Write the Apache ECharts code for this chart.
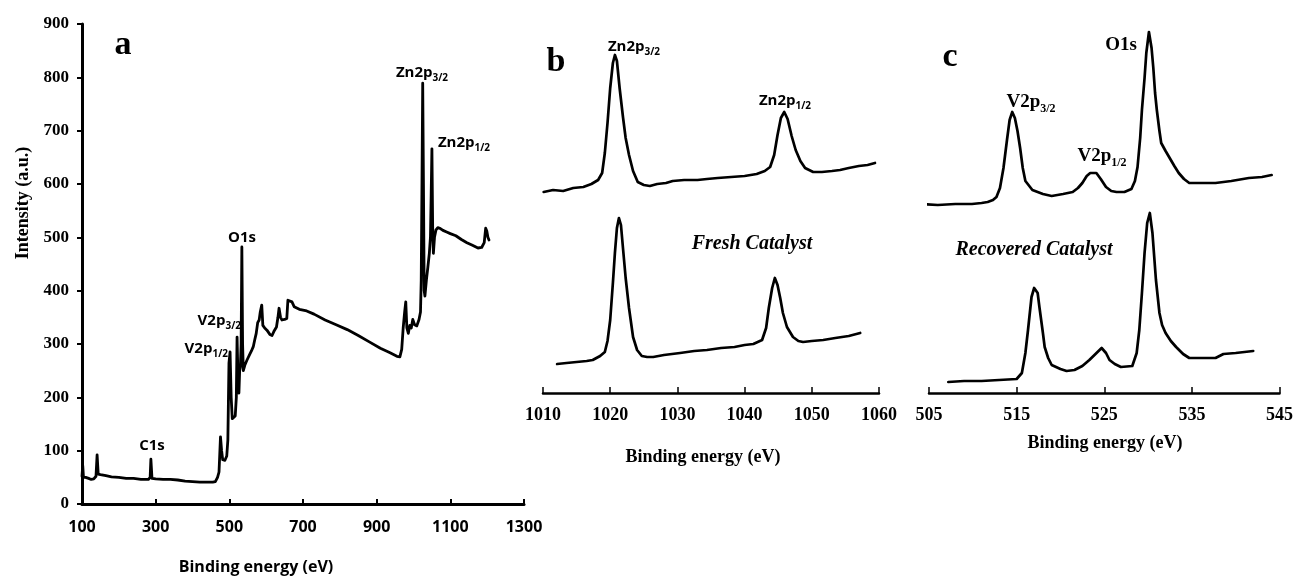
<!DOCTYPE html>
<html>
<head>
<meta charset="utf-8">
<script src="https://cdn.jsdelivr.net/npm/echarts@6/dist/echarts.min.js"></script>
<style>html,body{margin:0;padding:0;background:#fff}#chart{width:1296px;height:577px}</style>
</head>
<body>
<div id="chart"></div>
<script>
// ---- Panel a: survey spectrum ----
const surveyEnergy = [100,102,104,110,118,125,132,138,141,144,150,165,180,200,220,240,260,280,285,287,290,300,320,340,360,380,400,420,440,455,462,468,472,476,479,482,488,493,496,499,502,505,508,512,516,519,521,524,526,528,530,532,534,536,538,542,548,555,560,565,569,573,577,581,584,588,591,596,602,610,616,622,628,632,635,639,643,650,656,659,664,670,676,690,710,730,760,790,820,850,880,910,935,955,963,968,972,976,979,982,986,990,994,998,1003,1009,1015,1019,1021,1023,1025,1027,1029,1031,1035,1039,1043,1046,1048,1050,1052,1054,1057,1061,1066,1072,1080,1090,1100,1115,1130,1145,1160,1175,1185,1192,1196,1199,1202,1205];
const surveyIntensity = [52,72,50,50,48,46,47,52,92,56,55,53,51,50,48,48,46,46,50,84,48,47,46,46,45,43,42,41,41,41,42,50,60,126,100,83,82,90,120,264,285,200,160,157,165,200,313,220,208,250,257,300,482,300,250,260,270,280,287,295,308,320,340,345,360,373,335,330,326,318,316,325,332,350,367,350,345,346,348,382,383,379,370,365,362,356,345,336,327,316,304,292,284,277,276,290,330,360,379,330,320,335,330,346,336,334,346,360,420,600,789,600,400,390,420,444,470,500,580,666,520,470,500,514,518,517,513,510,507,503,496,490,485,480,481,490,517,512,500,495];
const surveyXTicks = [100,300,500,700,900,1100,1300];
const surveyYTicks = [0,100,200,300,400,500,600,700,800,900];

// ---- Panel b: Zn2p (upper and lower spectra), arbitrary intensity ----
const znTopEnergy = [1010.1,1011.5,1013,1014.5,1016,1017.2,1018.2,1018.8,1019.2,1019.6,1020.0,1020.4,1020.7,1021.0,1021.4,1021.9,1022.3,1022.8,1023.4,1024.1,1025,1025.9,1027,1028.3,1029.3,1031,1033,1034.4,1036,1038,1040,1041.8,1043,1043.8,1044.4,1044.9,1045.4,1045.9,1046.4,1047.0,1047.6,1048.3,1049,1050.2,1051.5,1053,1054.2,1055.5,1057,1058.3,1059.4];
const znTopIntensity = [201,203,202,205,206,209,213,220,240,270,305,330,338,332,305,276,255,238,222,211,208,207,209,210,212,213,213,214,215,216,217,219,222,226,238,258,275,281,274,257,243,232,225,221,221,222,223,225,227,228,230];
const znBottomEnergy = [1012.1,1013.5,1015,1016.5,1017.4,1018.5,1019.2,1019.6,1020.0,1020.4,1020.7,1021.0,1021.3,1021.6,1021.9,1022.3,1022.8,1023.4,1024.0,1024.7,1025.5,1026.4,1028,1030.4,1032.5,1034.4,1036.5,1038.5,1040,1041.3,1042.6,1043.2,1043.6,1044.1,1044.5,1044.9,1045.3,1045.7,1046.3,1047.2,1048,1048.7,1050,1051.7,1053.5,1055.5,1057.2];
const znBottomIntensity = [29,30,31,32,33,37,41,52,73,110,140,165,175,168,145,115,85,56,43,37,36,36,38,40,42,43,45,46,48,49,53,65,85,105,115,108,95,80,66,56,52,51,52,53,55,57,60];
const znXTicks = [1010,1020,1030,1040,1050,1060];

// ---- Panel c: V2p / O1s (upper and lower spectra), arbitrary intensity ----
const vTopEnergy = [502.5,504,506,508,509.9,511,511.7,512.3,512.7,513.1,513.5,513.9,514.2,514.5,514.8,515.1,515.4,515.7,516.0,516.8,518,519,520.3,521.4,522.0,522.5,523,523.4,524.1,524.6,525.2,525.8,526.4,527.3,528.1,528.5,528.8,529.1,529.3,529.6,529.8,530.1,530.4,530.6,530.8,531.0,531.3,531.5,532.0,532.4,533,533.5,534.1,534.7,536,537.7,539.5,541.5,543,544.1];
const vTopIntensity = [188,189,188,189,189,190,191,193,196,205,225,253,273,281,275,262,245,225,212,203,199,197,199,201,205,210,217,220,220,214,206,202,201,201,204,212,226,255,283,315,340,361,345,325,300,283,262,250,242,236,227,220,214,210,210,210,212,215,216,218];
const vBottomEnergy = [507.2,509,511,513,515.0,515.6,516.0,516.3,516.7,517.0,517.2,517.4,517.6,518.0,518.2,518.6,519.0,520,520.7,521.6,522.5,523.3,524.0,524.7,525.2,525.6,526.2,526.9,528.2,528.7,529.0,529.3,529.6,529.9,530.2,530.5,530.9,531.3,531.6,532.0,532.6,533.2,534,534.7,536,537.7,538.6,540,542.0];
const vBottomIntensity = [11,12,12,13,14,20,40,63,96,105,107,100,86,60,46,35,28,24,22,23,27,33,39,45,40,33,29,26,27,40,63,100,140,170,180,160,113,80,68,60,52,46,39,35,35,35,39,40,42];
const vXTicks = [505,515,525,535,545];

const pairs = (xs, ys) => xs.map((x, i) => [x, ys[i]]);
const plain = v => String(v);

const SERIF = '"Liberation Serif", "Times New Roman", serif';
const SANS = '"Open Sans", "Liberation Sans", sans-serif';

const chart = echarts.init(document.getElementById('chart'), null, {renderer: 'canvas'});

function lineSeries(xi, yi, data, w) {
  return {
    type: 'line', xAxisIndex: xi, yAxisIndex: yi, data: data,
    showSymbol: false, symbol: 'none', clip: false, animation: false,
    lineStyle: {color: '#000', width: w, join: 'round', cap: 'round'}, smooth: false
  };
}

function txt(x, y, text, font, opts) {
  opts = opts || {};
  const st = {
    text: text, font: font, fill: '#000',
    textAlign: opts.align || 'center', align: opts.align || 'center',
    textVerticalAlign: 'middle', verticalAlign: 'middle'
  };
  if (opts.rich) st.rich = opts.rich;
  return {type: 'text', x: x, y: y, rotation: opts.rotation || 0, style: st, z: 100};
}

const sansRich = {
  m: {fontFamily: SANS, fontWeight: 'bold', fontSize: 15, lineHeight: 20, verticalAlign: 'bottom'},
  s: {fontFamily: SANS, fontWeight: 'bold', fontSize: 10, lineHeight: 14, verticalAlign: 'bottom', padding: [0,0,-3,0]}
};
const serifRich = {
  m: {fontFamily: SERIF, fontWeight: 'bold', fontSize: 19, lineHeight: 22, verticalAlign: 'bottom'},
  s: {fontFamily: SERIF, fontWeight: 'bold', fontSize: 12, lineHeight: 15, verticalAlign: 'bottom', padding: [0,0,-3,0]}
};

const option = {
  backgroundColor: '#fff',
  animation: false,
  grid: [
    {left: 82, top: 24, width: 442, height: 480},
    {left: 543, top: 24, width: 336, height: 369},
    {left: 929, top: 24, width: 352, height: 369}
  ],
  xAxis: [
    {
      gridIndex: 0, type: 'value', min: surveyXTicks[0], max: surveyXTicks[surveyXTicks.length - 1], interval: 200,
      axisLine: {lineStyle: {color: '#000', width: 3}},
      axisTick: {show: true, inside: true, length: 5, lineStyle: {color: '#000', width: 2}},
      axisLabel: {color: '#000', fontFamily: SANS, fontWeight: 'bold', fontSize: 16, margin: 15, formatter: plain},
      splitLine: {show: false}
    },
    {
      gridIndex: 1, type: 'value', min: znXTicks[0], max: znXTicks[znXTicks.length - 1], interval: 10,
      axisLine: {lineStyle: {color: '#000', width: 2.5}},
      axisTick: {show: true, inside: true, length: 6, lineStyle: {color: '#000', width: 1.5}},
      axisLabel: {color: '#000', fontFamily: SERIF, fontWeight: 'bold', fontSize: 18, margin: 13, formatter: plain},
      splitLine: {show: false}
    },
    {
      gridIndex: 2, type: 'value', min: vXTicks[0], max: vXTicks[vXTicks.length - 1], interval: 10,
      axisLine: {lineStyle: {color: '#000', width: 2.5}},
      axisTick: {show: true, inside: true, length: 6, lineStyle: {color: '#000', width: 1.5}},
      axisLabel: {color: '#000', fontFamily: SERIF, fontWeight: 'bold', fontSize: 18, margin: 13, formatter: plain},
      splitLine: {show: false}
    }
  ],
  yAxis: [
    {
      gridIndex: 0, type: 'value', min: surveyYTicks[0], max: surveyYTicks[surveyYTicks.length - 1], interval: 100,
      axisLine: {show: true, lineStyle: {color: '#000', width: 3}},
      axisTick: {show: true, inside: false, length: 5, lineStyle: {color: '#000', width: 2}},
      axisLabel: {color: '#000', fontFamily: SERIF, fontWeight: 'bold', fontSize: 17, margin: 13, formatter: plain},
      splitLine: {show: false}
    },
    {gridIndex: 1, type: 'value', min: 0, max: 369, show: false, splitLine: {show: false}},
    {gridIndex: 2, type: 'value', min: 0, max: 369, show: false, splitLine: {show: false}}
  ],
  series: [
    lineSeries(0, 0, pairs(surveyEnergy, surveyIntensity), 2.8),
    lineSeries(1, 1, pairs(znTopEnergy, znTopIntensity), 2.7),
    lineSeries(1, 1, pairs(znBottomEnergy, znBottomIntensity), 2.7),
    lineSeries(2, 2, pairs(vTopEnergy, vTopIntensity), 2.7),
    lineSeries(2, 2, pairs(vBottomEnergy, vBottomIntensity), 2.7)
  ],
  graphic: [
    // axis titles
    txt(23, 203, 'Intensity (a.u.)', 'bold 18px ' + SERIF, {rotation: Math.PI / 2}),
    txt(256, 567, 'Binding energy (eV)', 'bold 16px ' + SANS),
    txt(703, 457, 'Binding energy (eV)', 'bold 18px ' + SERIF),
    txt(1105, 443, 'Binding energy (eV)', 'bold 18px ' + SERIF),
    // panel letters
    txt(123, 45, 'a', 'bold 34px ' + SERIF),
    txt(556, 62, 'b', 'bold 34px ' + SERIF),
    txt(950, 57, 'c', 'bold 34px ' + SERIF),
    // panel a peak labels
    txt(422, 70, '{m|Zn2p}{s|3/2}', 'bold 15px ' + SANS, {rich: sansRich}),
    txt(464, 140, '{m|Zn2p}{s|1/2}', 'bold 15px ' + SANS, {rich: sansRich}),
    txt(242, 235, '{m|O1s}', 'bold 15px ' + SANS, {rich: sansRich}),
    txt(241, 318, '{m|V2p}{s|3/2}', 'bold 15px ' + SANS, {rich: sansRich, align: 'right'}),
    txt(228, 346, '{m|V2p}{s|1/2}', 'bold 15px ' + SANS, {rich: sansRich, align: 'right'}),
    txt(152, 443, '{m|C1s}', 'bold 15px ' + SANS, {rich: sansRich}),
    // panel b labels
    txt(634, 44, '{m|Zn2p}{s|3/2}', 'bold 15px ' + SANS, {rich: sansRich}),
    txt(785, 98, '{m|Zn2p}{s|1/2}', 'bold 15px ' + SANS, {rich: sansRich}),
    txt(752, 244, 'Fresh Catalyst', 'italic bold 20px ' + SERIF),
    // panel c labels
    txt(1121, 44, '{m|O1s}', 'bold 19px ' + SERIF, {rich: serifRich}),
    txt(1031, 101, '{m|V2p}{s|3/2}', 'bold 19px ' + SERIF, {rich: serifRich}),
    txt(1102, 155, '{m|V2p}{s|1/2}', 'bold 19px ' + SERIF, {rich: serifRich}),
    txt(1034, 250, 'Recovered Catalyst', 'italic bold 20px ' + SERIF)
  ]
};
chart.setOption(option);
</script>
</body>
</html>
